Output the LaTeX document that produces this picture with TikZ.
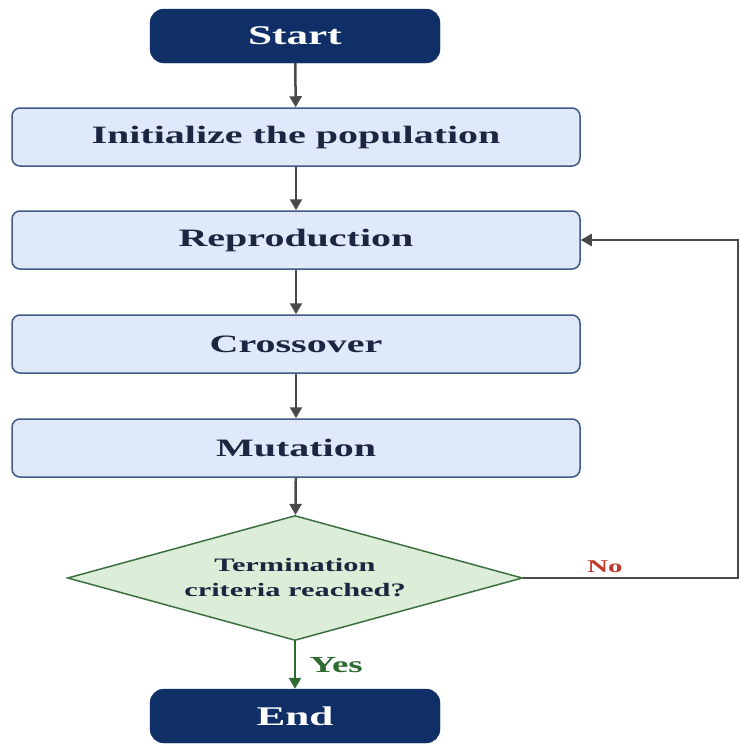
\documentclass[tikz,border=0pt]{standalone}
\usepackage{graphicx}
\usepackage{fontspec}
\setmainfont{Liberation Serif}
\usetikzlibrary{shapes.geometric,arrows.meta}
\definecolor{navy}{HTML}{0F2F66}
\definecolor{boxfill}{HTML}{DFE9F9}
\definecolor{boxline}{HTML}{405A85}
\definecolor{boxtext}{HTML}{1C2640}
\definecolor{dfill}{HTML}{DCEDD8}
\definecolor{dline}{HTML}{3C7040}
\definecolor{arrowgray}{HTML}{4A4A4A}
\definecolor{nored}{HTML}{C0392B}
\definecolor{yesgreen}{HTML}{2E6B30}
\newcommand{\wt}[1]{\scalebox{1.6}[1]{#1}}
\tikzset{
  terminal/.style={draw=navy, fill=navy, rounded corners=14pt, minimum width=290pt, minimum height=54pt, text=white, font=\fontsize{27}{30}\selectfont\bfseries, inner sep=0pt},
  stepbox/.style={draw=boxline, line width=1.5pt, fill=boxfill, rounded corners=8pt, minimum width=568pt, minimum height=58pt, text=boxtext, font=\fontsize{25}{28}\selectfont\bfseries, inner sep=0pt},
  decision/.style={diamond, shape aspect=3.64, draw=dline, line width=1.5pt, fill=dfill, minimum width=455pt, minimum height=125pt, inner sep=0pt, text=boxtext, align=center, font=\fontsize{19}{25}\selectfont\bfseries},
  flow/.style={draw=arrowgray, line width=2.5pt, -{Triangle[length=11pt,width=12pt]}},
  yesflow/.style={draw=yesgreen, line width=2.5pt, -{Triangle[length=11pt,width=12pt]}},
}
\begin{document}
\begin{tikzpicture}[x=1pt,y=-1pt]
\useasboundingbox (0,0) rectangle (740,744);
\fill[white] (0,0) rectangle (740,744);
\node[terminal] (start) at (295,36) {\wt{Start}};
\node[stepbox] (init) at (296,137) {\wt{Initialize the population}};
\node[stepbox] (repro) at (296,240) {\wt{Reproduction}};
\node[stepbox] (cross) at (296,344) {\wt{Crossover}};
\node[stepbox] (mut) at (296,448) {\wt{Mutation}};
\node[decision] (dec) at (295,578) {\wt{Termination}\\\wt{criteria reached?}};
\node[terminal] (end) at (295,716) {\wt{End}};
\coordinate (c1) at (738,578);
\coordinate (c2) at (738,240);
\draw[flow] (start) -- (init);
\draw[flow] (init) -- (repro);
\draw[flow] (repro) -- (cross);
\draw[flow] (cross) -- (mut);
\draw[flow] (mut) -- (dec);
\draw[yesflow] (dec.south) -- node[text=yesgreen, right=10pt, font=\fontsize{23}{26}\selectfont\bfseries] {\wt{Yes}} (end.north);
\draw[flow] (dec.east) -- node[text=nored, above=1pt, pos=0.38, font=\fontsize{18}{20}\selectfont\bfseries] {\wt{No}} (c1) -- (c2) -- (repro.east);
\end{tikzpicture}
\end{document}
